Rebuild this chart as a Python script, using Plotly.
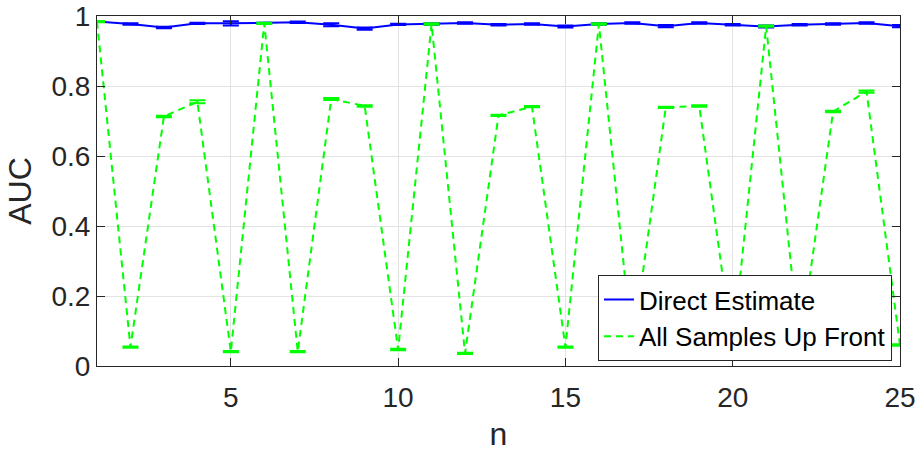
import plotly.graph_objects as go

n = list(range(1, 26))

direct_auc = [0.984, 0.977, 0.967, 0.979, 0.979, 0.980, 0.982, 0.975, 0.964, 0.976,
              0.977, 0.980, 0.975, 0.977, 0.970, 0.977, 0.980, 0.971, 0.980, 0.975,
              0.970, 0.975, 0.977, 0.980, 0.971]
direct_err = [0.001, 0.002, 0.002, 0.002, 0.006, 0.001, 0.002, 0.004, 0.003, 0.002,
              0.002, 0.002, 0.002, 0.002, 0.003, 0.002, 0.002, 0.003, 0.002, 0.002,
              0.003, 0.002, 0.002, 0.002, 0.003]

upfront_auc = [0.984, 0.054, 0.713, 0.755, 0.041, 0.979, 0.041, 0.763, 0.743, 0.047,
               0.977, 0.036, 0.716, 0.741, 0.054, 0.977, 0.050, 0.739, 0.743, 0.050,
               0.971, 0.050, 0.727, 0.784, 0.060]
upfront_err = [0.002, 0.002, 0.002, 0.004, 0.002, 0.002, 0.002, 0.003, 0.002, 0.002,
               0.002, 0.002, 0.002, 0.002, 0.002, 0.002, 0.002, 0.002, 0.002, 0.002,
               0.002, 0.002, 0.002, 0.003, 0.002]

x_ticks = [5, 10, 15, 20, 25]
y_ticks = [0, 0.2, 0.4, 0.6, 0.8, 1]
y_tick_labels = ["0", "0.2", "0.4", "0.6", "0.8", "1"]

FONT = "Liberation Sans, Arial, sans-serif"
AXC = "#262626"

fig = go.Figure()
fig.add_trace(go.Scatter(
    x=n, y=direct_auc, mode="lines", name="Direct Estimate",
    line=dict(color="#0000FF", width=2),
    error_y=dict(type="data", array=direct_err, color="#0000FF", thickness=2, width=8),
))
fig.add_trace(go.Scatter(
    x=n, y=upfront_auc, mode="lines", name="All Samples Up Front",
    line=dict(color="#00FF00", width=2, dash="7px,5px"),
    error_y=dict(type="data", array=upfront_err, color="#00FF00", thickness=2, width=8),
))

fig.update_layout(
    width=919, height=452,
    margin=dict(l=97, r=19, t=16, b=86, autoexpand=False),
    paper_bgcolor="white", plot_bgcolor="white",
    font=dict(family=FONT, size=27, color=AXC),
    showlegend=True,
    legend=dict(
        x=0.99, y=0.014, xanchor="right", yanchor="bottom",
        bgcolor="white", bordercolor=AXC, borderwidth=1,
        font=dict(family=FONT, size=26, color="black"),
        itemwidth=30, tracegroupgap=0,
    ),
)
fig.update_xaxes(
    range=[1, 25], tickvals=x_ticks,
    showgrid=True, gridcolor="#e3e3e3", gridwidth=1,
    showline=True, linecolor=AXC, linewidth=1, mirror="ticks",
    ticks="inside", ticklen=8, tickcolor=AXC,
    zeroline=False, automargin=False, ticklabelstandoff=6,
    title=dict(text="n", font=dict(size=32, color=AXC), standoff=28),
    tickfont=dict(size=28, color=AXC),
)
fig.update_yaxes(
    range=[0, 1], tickvals=y_ticks, ticktext=y_tick_labels,
    showgrid=True, gridcolor="#e3e3e3", gridwidth=1,
    showline=True, linecolor=AXC, linewidth=1, mirror="ticks",
    ticks="inside", ticklen=8, tickcolor=AXC,
    zeroline=False, automargin=False,
    title=dict(text="AUC", font=dict(size=32, color=AXC), standoff=10),
    tickfont=dict(size=28, color=AXC),
)

fig.write_html("out.html")
